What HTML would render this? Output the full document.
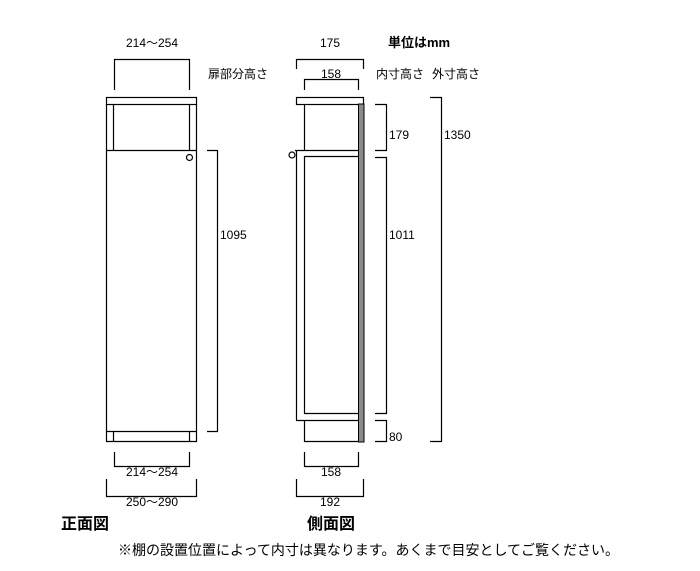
<!DOCTYPE html>
<html><head><meta charset="utf-8"><style>
html,body{margin:0;padding:0;background:#fff;}
svg{display:block;}
text{font-family:"Liberation Sans","Noto Sans CJK JP",sans-serif;fill:#000;}
</style></head><body>
<svg width="700" height="571" viewBox="0 0 700 571" xmlns="http://www.w3.org/2000/svg">
<g fill="none" stroke="#000" stroke-width="1.2">
<!-- front view -->
<rect x="106.5" y="97.5" width="90" height="7"/>
<line x1="106.5" y1="104" x2="106.5" y2="442"/>
<line x1="196.5" y1="104" x2="196.5" y2="442"/>
<line x1="113.5" y1="104" x2="113.5" y2="150"/>
<line x1="189.5" y1="104" x2="189.5" y2="150"/>
<line x1="106" y1="150.5" x2="197" y2="150.5"/>
<line x1="106" y1="431.5" x2="197" y2="431.5"/>
<line x1="106" y1="441.5" x2="197" y2="441.5"/>
<line x1="113.5" y1="431" x2="113.5" y2="442"/>
<line x1="189.5" y1="431" x2="189.5" y2="442"/>
<circle cx="189.5" cy="157.5" r="3"/>
<!-- front dims -->
<polyline points="114.5,90 114.5,59.5 189.5,59.5 189.5,90"/>
<polyline points="207,150.5 217.5,150.5 217.5,431.5 207,431.5"/>
<polyline points="114.5,452 114.5,466.5 189.5,466.5 189.5,452"/>
<polyline points="106.5,479 106.5,496.5 196.5,496.5 196.5,479"/>
<!-- side view -->
<rect x="296.5" y="97.5" width="67" height="7"/>
<line x1="304.5" y1="104" x2="304.5" y2="150"/>
<line x1="295" y1="150.5" x2="359" y2="150.5"/>
<line x1="304" y1="156.5" x2="359" y2="156.5"/>
<line x1="296.5" y1="150" x2="296.5" y2="420.5"/>
<line x1="304.5" y1="156" x2="304.5" y2="414"/>
<line x1="304" y1="413.5" x2="359" y2="413.5"/>
<line x1="296" y1="420.5" x2="359" y2="420.5"/>
<line x1="304.5" y1="420" x2="304.5" y2="442"/>
<line x1="304" y1="441.5" x2="364" y2="441.5"/>
<circle cx="292" cy="155" r="3"/>
</g>
<rect x="358.5" y="104" width="5.5" height="338" fill="#8a8a8a" stroke="#000" stroke-width="1"/>
<g fill="none" stroke="#000" stroke-width="1.2">
<polyline points="296.5,69 296.5,59.5 363.5,59.5 363.5,69"/>
<polyline points="304.5,90 304.5,79.5 358.5,79.5 358.5,90"/>
<polyline points="375,104.5 386.5,104.5 386.5,150.5 375,150.5"/>
<polyline points="375,157.5 386.5,157.5 386.5,413.5 375,413.5"/>
<polyline points="375,420.5 386.5,420.5 386.5,441.5 375,441.5"/>
<polyline points="430,97.5 441.5,97.5 441.5,441.5 430,441.5"/>
<polyline points="304.5,452 304.5,466.5 358.5,466.5 358.5,452"/>
<polyline points="296.5,479 296.5,496.5 363.5,496.5 363.5,479"/>
</g>
<g font-size="12">
<text x="152" y="47" text-anchor="middle">214～254</text>
<text x="208" y="78">扉部分高さ</text>
<text x="220" y="239">1095</text>
<text x="152" y="476" text-anchor="middle">214～254</text>
<text x="152" y="506" text-anchor="middle">250～290</text>
<text x="330" y="47" text-anchor="middle">175</text>
<text x="331" y="78" text-anchor="middle">158</text>
<text x="376" y="78">内寸高さ</text>
<text x="432" y="78">外寸高さ</text>
<text x="389" y="139">179</text>
<text x="389" y="239">1011</text>
<text x="389" y="441">80</text>
<text x="444" y="139">1350</text>
<text x="331" y="476" text-anchor="middle">158</text>
<text x="330" y="506" text-anchor="middle">192</text>
</g>
<text x="388" y="47" font-size="13" font-weight="bold">単位はmm</text>
<text x="61" y="529" font-size="16" font-weight="bold">正面図</text>
<text x="307" y="529" font-size="16" font-weight="bold">側面図</text>
<text x="118" y="555" font-size="14">※棚の設置位置によって内寸は異なります。あくまで目安としてご覧ください。</text>
</svg>
</body></html>
